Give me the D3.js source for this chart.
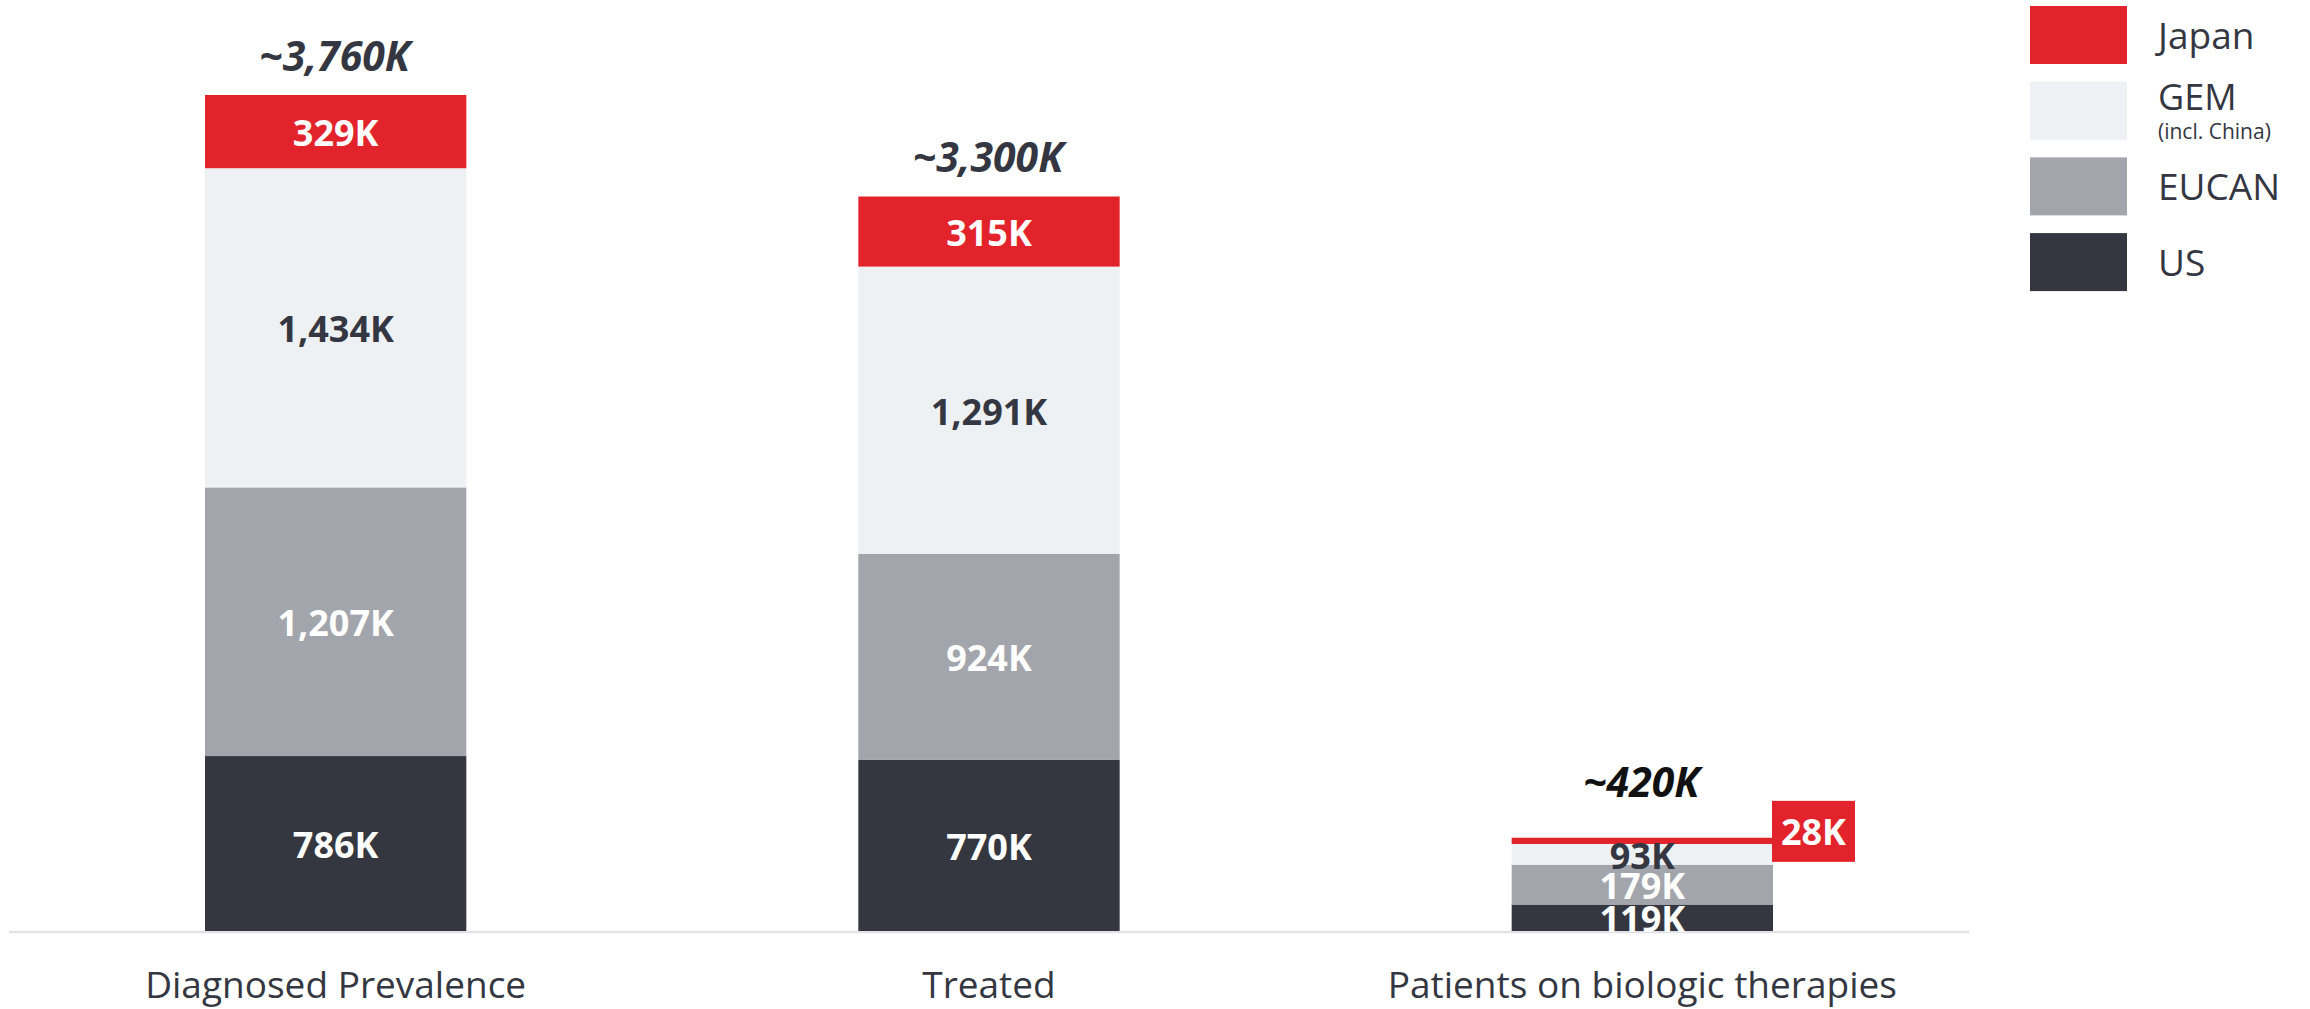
<!DOCTYPE html>
<html>
<head>
<meta charset="utf-8">
<script src="https://cdn.jsdelivr.net/npm/d3@7"></script>
<style>
  html, body { margin: 0; padding: 0; background: #fff; }
  svg { display: block; font-family: "Open Sans", sans-serif; }
</style>
</head>
<body>
<svg id="chart" width="2310" height="1009"></svg>
<script>

// data (thousands of patients)
const categories = ["Diagnosed Prevalence", "Treated", "Patients on biologic therapies"];
const usValues    = [786, 770, 119];
const eucanValues = [1207, 924, 179];
const gemValues   = [1434, 1291, 93];
const japanValues = [329, 315, 28];
const totalLabels = ["~3,760K", "~3,300K", "~420K"];

const seriesKeys   = ["US", "EUCAN", "GEM", "Japan"];
const legendOrder  = ["Japan", "GEM", "EUCAN", "US"];
const colors = { Japan: "#e3232b", GEM: "#edf1f4", EUCAN: "#a3a5ad", US: "#353740" };
const labelColors = { Japan: "#ffffff", GEM: "#343741", EUCAN: "#ffffff", US: "#ffffff" };

const rows = categories.map((c, i) => ({
    category: c,
    US: usValues[i],
    EUCAN: eucanValues[i],
    GEM: gemValues[i],
    Japan: japanValues[i]
}));

const svg = d3.select("#chart");
const baseY = 931;

const x = d3.scaleBand()
    .domain(categories)
    .range([9, 1969])
    .paddingInner(0.6)
    .paddingOuter(0.3);

const y = d3.scaleLinear()
    .domain([0, 3756])
    .range([baseY, 95]);

const stacked = d3.stack().keys(seriesKeys)(rows);

// baseline
svg.append("line")
    .attr("x1", x.range()[0]).attr("x2", x.range()[1])
    .attr("y1", baseY + 1).attr("y2", baseY + 1)
    .attr("stroke", "#e1e1e7").attr("stroke-width", 2.5);

// bars
const layers = svg.selectAll("g.layer")
    .data(stacked)
    .join("g")
    .attr("class", "layer")
    .attr("fill", d => colors[d.key]);

layers.selectAll("rect")
    .data(d => d.map(p => ({ key: d.key, p })))
    .join("rect")
    .attr("x", d => x(d.p.data.category))
    .attr("width", x.bandwidth())
    .attr("y", d => y(d.p[1]))
    .attr("height", d => y(d.p[0]) - y(d.p[1]));

// segment labels
const small = categories[2];
stacked.forEach(layer => {
    layer.forEach(p => {
        const cat = p.data.category;
        const val = p[1] - p[0];
        if (cat === small && layer.key === "Japan") {
            // callout box to the right of the thin red slice
            const mid = (y(p[0]) + y(p[1])) / 2;
            const bx = x(cat) + x.bandwidth() - 1;
            svg.append("rect")
                .attr("x", bx).attr("y", mid - 40)
                .attr("width", 83).attr("height", 61)
                .attr("fill", colors.Japan);
            svg.append("text")
                .attr("x", bx + 41.5).attr("y", mid - 9.5)
                .attr("text-anchor", "middle")
                .attr("dominant-baseline", "central")
                .attr("font-size", 36).attr("font-weight", 700)
                .attr("fill", "#fff")
                .text(val + "K");
            return;
        }
        svg.append("text")
            .attr("x", x(cat) + x.bandwidth() / 2)
            .attr("y", (y(p[0]) + y(p[1])) / 2 + 1)
            .attr("text-anchor", "middle")
            .attr("dominant-baseline", "central")
            .attr("font-size", 36).attr("font-weight", 700)
            .attr("fill", labelColors[layer.key])
            .text(d3.format(",")(val) + "K");
    });
});

// totals
rows.forEach((r, i) => {
    const top = y(d3.sum(seriesKeys, k => r[k]));
    svg.append("text")
        .attr("x", x(r.category) + x.bandwidth() / 2 - 1)
        .attr("y", top - 24 - (i === 2 ? 17 : 0))
        .attr("text-anchor", "middle")
        .attr("font-size", 41).attr("font-weight", 700).attr("font-style", "italic")
        .attr("fill", i === 2 ? "#111" : "#343741")
        .text(totalLabels[i]);
});

// category labels
svg.selectAll("text.cat")
    .data(categories)
    .join("text")
    .attr("class", "cat")
    .attr("x", d => x(d) + x.bandwidth() / 2)
    .attr("y", 998)
    .attr("text-anchor", "middle")
    .attr("font-size", 37)
    .attr("fill", "#343741")
    .text(d => d);

// legend
const legend = svg.append("g").attr("transform", "translate(2030,6)");
legendOrder.forEach((k, i) => {
    const g = legend.append("g").attr("transform", `translate(0,${i * 75.7})`);
    g.append("rect").attr("width", 97).attr("height", 58).attr("fill", colors[k]);
    if (k === "GEM") {
        g.append("text").attr("x", 128).attr("y", 28.5)
            .attr("font-size", 36).attr("fill", "#343741").text("GEM");
        g.append("text").attr("x", 128).attr("y", 57)
            .attr("font-size", 21).attr("fill", "#343741").text("(incl. China)");
    } else {
        g.append("text").attr("x", 128).attr("y", 43)
            .attr("font-size", 37).attr("fill", "#343741").text(k);
    }
});
</script>
</body>
</html>
